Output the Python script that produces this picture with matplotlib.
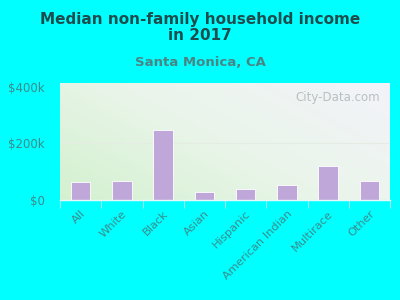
import matplotlib
matplotlib.use("Agg")
import matplotlib.pyplot as plt
import numpy as np
from matplotlib.colors import LinearSegmentedColormap

categories = ["All", "White", "Black", "Asian", "Hispanic",
              "American Indian", "Multirace", "Other"]
incomes = [64000, 67000, 248000, 29000, 40000, 54000, 120000, 67000]
ytick_values = [0, 200000, 400000]
ytick_labels = ["$0", "$200k", "$400k"]

fig = plt.figure(figsize=(4, 3), dpi=100, facecolor="#00ffff")
ax = fig.add_axes([0.15, 0.333, 0.825, 0.39])

x = np.arange(len(categories))
ax.set_xlim(-0.5, len(categories) - 0.5)
ax.set_ylim(0, 412000)

# gradient background: green at lower left, pale lavender at upper right
cmap = LinearSegmentedColormap.from_list("bg", ["#d3f1cf", "#eaf5ea", "#f3f3fa"])
gx, gy = np.meshgrid(np.linspace(0, 1, 100), np.linspace(0, 1, 100))
grad = 0.6 * gx + 0.4 * gy
ax.imshow(grad, cmap=cmap, aspect="auto", origin="lower",
          extent=[-0.5, len(categories) - 0.5, 0, 412000], zorder=0)

ax.axhline(200000, color="#e4ece4", lw=0.8, zorder=1)
ax.bar(x, incomes, width=0.47, color="#bfa8d9", edgecolor="white",
       linewidth=0.6, zorder=2)

ax.text(0.97, 0.93, "City-Data.com", transform=ax.transAxes, ha="right",
        va="top", fontsize=8.5, color="#b8c0c0", zorder=3)

for s in ["top", "right", "left"]:
    ax.spines[s].set_visible(False)
ax.spines["bottom"].set_color("#e8f8f8")
ax.spines["bottom"].set_linewidth(1)

ax.set_yticks(ytick_values)
ax.set_yticklabels(ytick_labels)
ax.set_xticks(x)
ax.set_xticklabels(categories, rotation=45, ha="right", rotation_mode="anchor")
ax.tick_params(axis="y", length=0, labelsize=8.5, colors="#3c8c8c", pad=11)
ax.tick_params(axis="x", length=0, labelsize=8.2, colors="#3c8c8c", pad=6)
ax.set_xticks(np.arange(len(categories) + 1) - 0.5, minor=True)
ax.tick_params(axis="x", which="minor", length=6, color="#a0eeee", width=0.8)

fig.text(0.5, 0.96, "Median non-family household income\nin 2017",
         ha="center", va="top", fontsize=11, fontweight="bold",
         color="#1f4d4d", linespacing=1.05)
fig.text(0.5, 0.79, "Santa Monica, CA", ha="center", va="center",
         fontsize=9.5, fontweight="bold", color="#4a8585")

fig.savefig("out.png", dpi=100, facecolor=fig.get_facecolor())
